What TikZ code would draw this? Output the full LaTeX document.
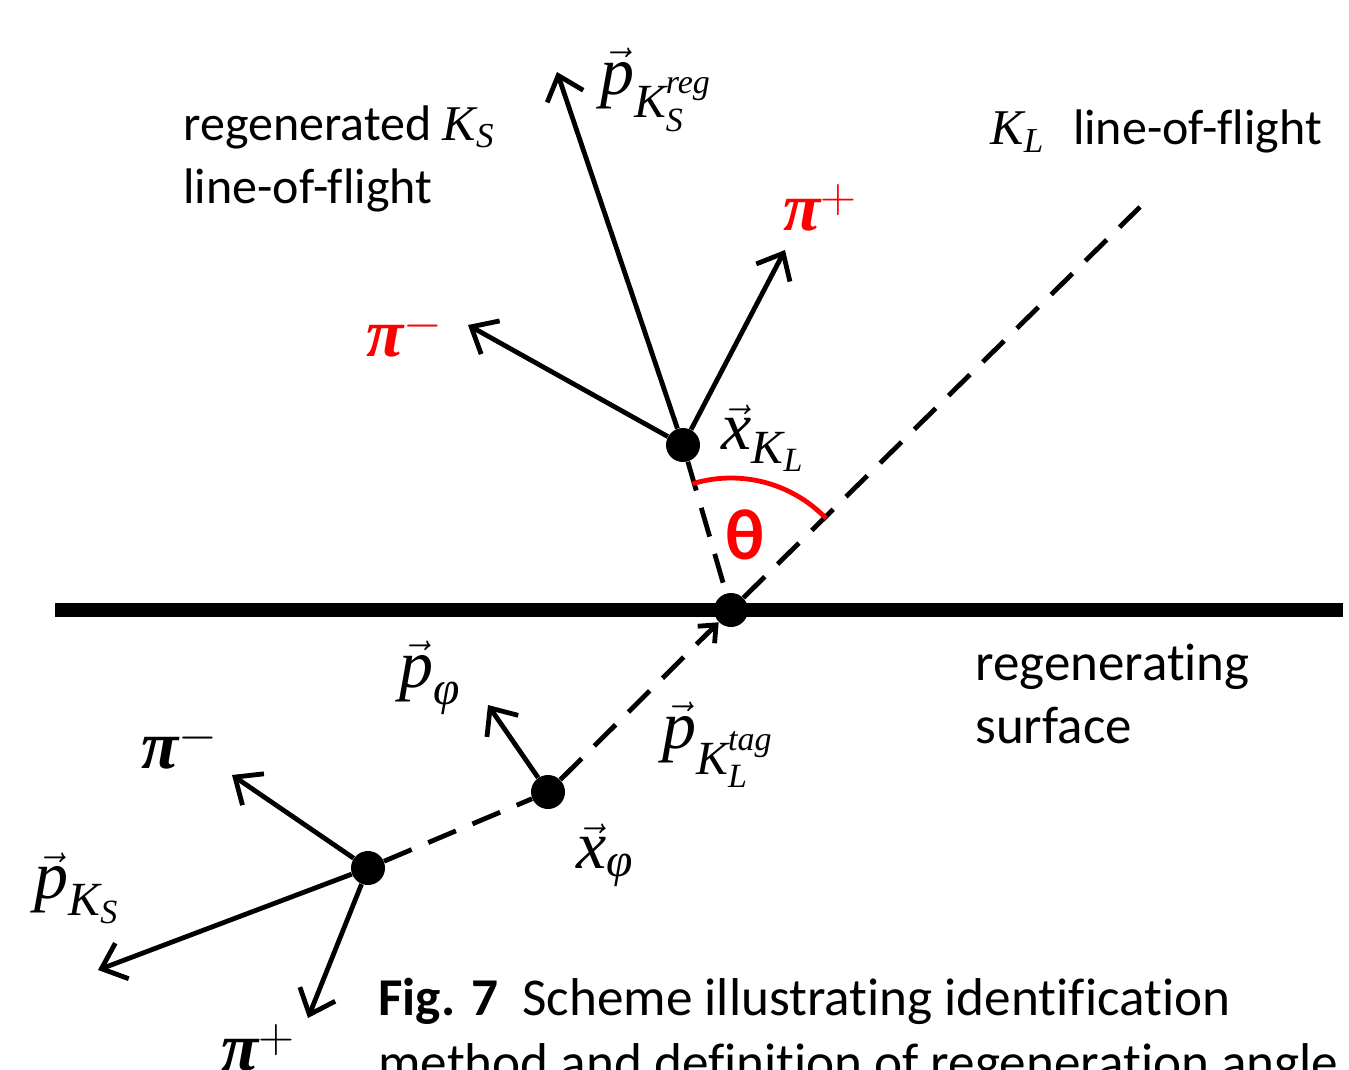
\documentclass[tikz,border=0pt]{standalone}
\usepackage{amsmath}
\usepackage{bm}
\usepackage{fontspec}
\setmainfont{Carlito}[Ligatures=NoCommon]
\newfontfamily\tms{Liberation Serif}
\newcommand\tmi[1]{\text{\tms\itshape #1}}
\newcommand\tmpi{\text{\tms\bfseries\itshape π}}
\usetikzlibrary{arrows.meta}

\begin{document}
\begin{tikzpicture}[x=0.5pt, y=-0.5pt, line cap=butt,
    dot/.style={circle, fill, inner sep=0pt, minimum size=17pt},
    vec/.style={line width=2.4pt, -{Straight Barb[length=11pt, width=19pt, line width=2.4pt]}},
    kline/.style={line width=2.4pt, dash pattern=on 15pt off 9pt},
    lbl/.style={font=\fontsize{25}{31.5}\selectfont, inner sep=0pt},
    mlbl/.style={font=\fontsize{34}{40}\selectfont, inner sep=0pt}]
  \useasboundingbox (0,0) rectangle (1349,1070);
  \clip (0,0) rectangle (1349,1070);

  % regenerating surface
  \draw[line width=7pt] (55,610) -- (1343,610);

  % vertices
  \node[dot] (xkl) at (683,445) {};
  \node[dot] (reg) at (731,610) {};
  \node[dot] (xphi) at (548,792) {};
  \node[dot] (xks) at (368,868) {};

  % free arrow ends
  \coordinate (klend) at (1140,207);
  \coordinate (tipreg) at (557,72);
  \coordinate (tippipa) at (785,250);
  \coordinate (tippima) at (468,325);
  \coordinate (tipphi) at (488,705);
  \coordinate (tippimb) at (232,775);
  \coordinate (tipks) at (98,970);
  \coordinate (tippipb) at (308,1018);

  % lines of flight
  \draw[kline, -{Straight Barb[length=7pt, width=12pt, line width=2.4pt]}] (xphi) -- (reg);
  \draw[kline] (reg) -- (klend);
  \draw[kline] (xkl) -- (reg);
  \draw[kline] (xks) -- (xphi);

  % momenta
  \draw[vec] (xkl) -- (tipreg);
  \draw[vec] (xkl) -- (tippipa);
  \draw[vec] (xkl) -- (tippima);
  \draw[vec] (xphi) -- (tipphi);
  \draw[vec] (xks) -- (tippimb);
  \draw[vec] (xks) -- (tipks);
  \draw[vec] (xks) -- (tippipb);

  % regeneration angle
  \draw[red, line width=2.4pt] ([shift={(-107:132)}]reg.center) arc[start angle=-107, end angle=-44, radius=132];
  \node[lbl, red, font=\fontsize{36}{40}\selectfont\bfseries] (theta) at (745,535) {θ};

  % labels
  \node[lbl, anchor=base west, align=left] (regks) at (183,203) {regenerated $\tmi{K}_{\tmi{S}}$\\line-of-flight};
  \node[lbl, anchor=base west] (kllof) at (990,145) {$\tmi{K}_{\tmi{L}}$\hspace{0.35em} line-of-flight};
  \node[lbl, anchor=base west, align=left, font=\fontsize{26.5}{31.5}\selectfont] (surf) at (975,743) {regenerating\\surface};
  \node[mlbl] (lreg) at (656,90) {$\vec{\tmi{p}}_{\tmi{K}_{\tmi{S}}^{\tmi{reg}}}$};
  \node[mlbl, red] (lpipa) at (820,208) {$\tmpi^{+}$};
  \node[mlbl, red] (lpima) at (405,333) {$\tmpi^{-}$};
  \node[mlbl] (lxkl) at (763,438) {$\vec{\tmi{x}}_{\tmi{K}_{\tmi{L}}}$};
  \node[mlbl] (lphi) at (430,678) {$\vec{\tmi{p}}_{\tmi{φ}}$};
  \node[mlbl] (ltag) at (718,745) {$\vec{\tmi{p}}_{\tmi{K}_{\tmi{L}}^{\tmi{tag}}}$};
  \node[mlbl] (lxphi) at (605,855) {$\vec{\tmi{x}}_{\tmi{φ}}$};
  \node[mlbl] (lpimb) at (180,745) {$\tmpi^{-}$};
  \node[mlbl] (lks) at (77,888) {$\vec{\tmi{p}}_{\tmi{K}_{\tmi{S}}}$};
  \node[mlbl] (lpipb) at (258,1048) {$\tmpi^{+}$};

  % caption
  \node[anchor=base west, align=left, inner sep=0pt, font=\fontsize{26.6}{32.5}\selectfont] (cap) at (378,1080)
    {\textbf{Fig. 7}\ \ Scheme illustrating identification\\method and definition of regeneration angle};
\end{tikzpicture}
\end{document}
